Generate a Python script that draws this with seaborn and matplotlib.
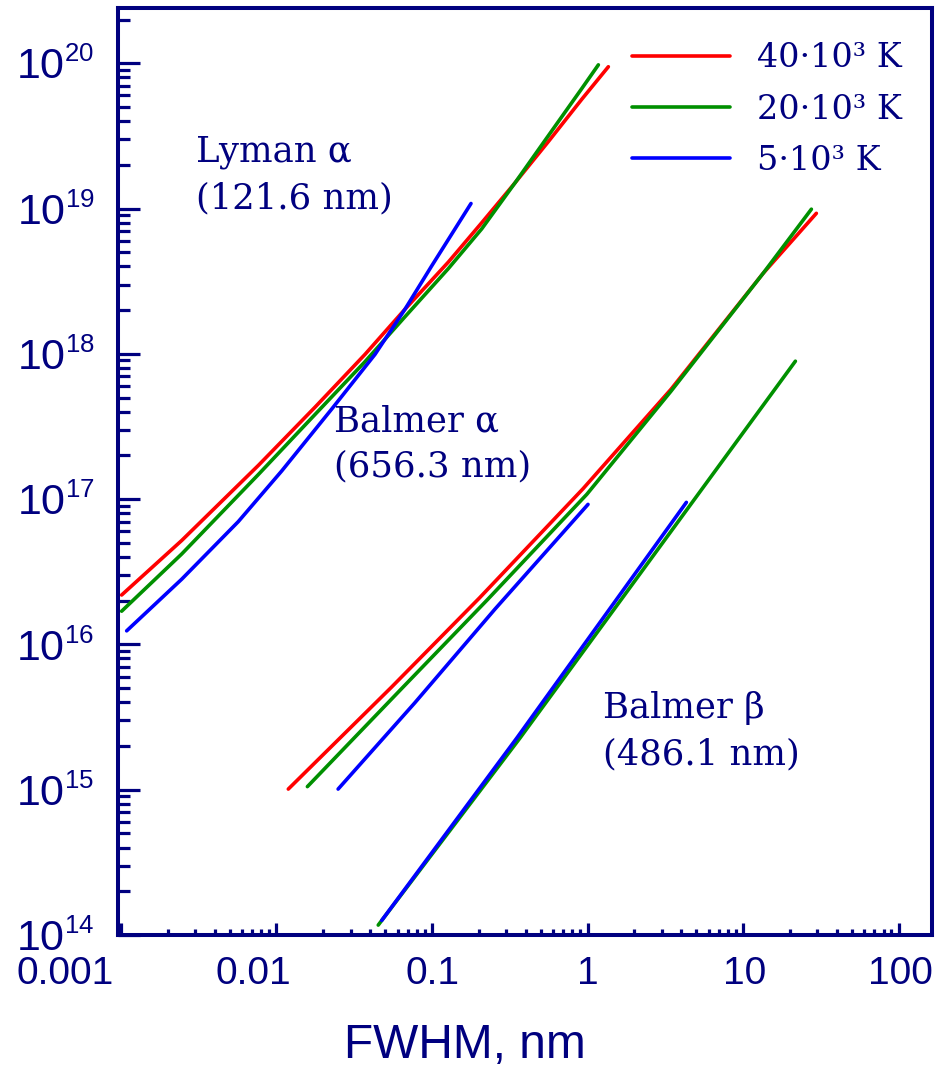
import numpy as np
import pandas as pd
import matplotlib
matplotlib.use("Agg")
import matplotlib.pyplot as plt
import matplotlib.transforms as mtransforms
from matplotlib.ticker import LogLocator, NullFormatter
import seaborn as sns

# ---------------- data ----------------
temperatures = ["40·10³ K", "20·10³ K", "5·10³ K"]
temp_colors = ["#ff0000", "#009000", "#0000ff"]

# Lyman alpha (121.6 nm)
lyman_40_x = [0.00101, 0.002457, 0.007638, 0.01769, 0.03707, 0.067, 0.1273, 0.2087, 0.3418, 0.5597, 0.9177, 1.361]
lyman_40_y = [2.188e16, 5.19e16, 1.705e17, 4.293e17, 9.91e17, 2.027e18, 4.279e18, 7.98e18, 1.503e19, 2.888e19, 5.645e19, 9.46e19]
lyman_20_x = [0.00101, 0.002457, 0.007638, 0.01769, 0.03707, 0.067, 0.1273, 0.2087, 0.3418, 0.5597, 0.9177, 1.174]
lyman_20_y = [1.693e16, 4.19e16, 1.475e17, 3.825e17, 8.83e17, 1.799e18, 3.86e18, 7.244e18, 1.503e19, 3.171e19, 6.69e19, 9.75e19]
lyman_5_x = [0.001088, 0.002457, 0.005679, 0.0108, 0.02265, 0.04298, 0.067, 0.0996, 0.1781]
lyman_5_y = [1.24e16, 2.81e16, 7.0e16, 1.562e17, 4.168e17, 9.91e17, 2.027e18, 4.033e18, 1.083e19]

# Balmer alpha (656.3 nm)
balmer_a_40_x = [0.01191, 0.0549, 0.202, 0.936, 3.44, 13.4, 29.6]
balmer_a_40_y = [1.01e15, 5.08e15, 2.09e16, 1.18e17, 5.7e17, 3.56e18, 9.27e18]
balmer_a_20_x = [0.0158, 0.0651, 0.227, 0.99, 3.44, 13.4, 27.5]
balmer_a_20_y = [1.05e15, 5.08e15, 2.03e16, 1.08e17, 5.53e17, 3.56e18, 9.9e18]
balmer_a_5_x = [0.0249, 0.0773, 0.254, 1.007]
balmer_a_5_y = [1.01e15, 3.95e15, 1.75e16, 9.2e16]

# Balmer beta (486.1 nm)
balmer_b_20_x = [0.0451, 0.368, 21.7]
balmer_b_20_y = [1.17e14, 2.27e15, 8.9e17]
balmer_b_5_x = [0.0475, 0.351, 4.32]
balmer_b_5_y = [1.26e14, 2.27e15, 9.5e16]

x_ticks = [0.001, 0.01, 0.1, 1, 10, 100]
x_tick_labels = ["0.001", "0.01", "0.1", "1", "10", "100"]
y_ticks = [1e14, 1e15, 1e16, 1e17, 1e18, 1e19, 1e20]
y_tick_labels = [r"$10^{14}$", r"$10^{15}$", r"$10^{16}$", r"$10^{17}$",
                 r"$10^{18}$", r"$10^{19}$", r"$10^{20}$"]
x_label = "FWHM, nm"
line_labels = [("Lyman α", "(121.6 nm)"), ("Balmer α", "(656.3 nm)"), ("Balmer β", "(486.1 nm)")]

series = [
    ("lyman", temperatures[0], lyman_40_x, lyman_40_y),
    ("lyman", temperatures[1], lyman_20_x, lyman_20_y),
    ("lyman", temperatures[2], lyman_5_x, lyman_5_y),
    ("balmer_a", temperatures[0], balmer_a_40_x, balmer_a_40_y),
    ("balmer_a", temperatures[1], balmer_a_20_x, balmer_a_20_y),
    ("balmer_a", temperatures[2], balmer_a_5_x, balmer_a_5_y),
    ("balmer_b", temperatures[1], balmer_b_20_x, balmer_b_20_y),
    ("balmer_b", temperatures[2], balmer_b_5_x, balmer_b_5_y),
]
rows = []
for line_name, temp, xs, ys in series:
    for i, (xv, yv) in enumerate(zip(xs, ys)):
        rows.append({"curve": f"{line_name}|{temp}", "temp": temp, "fwhm": xv, "ne": yv, "order": i})
df = pd.DataFrame(rows)

# ---------------- style ----------------
navy = "#00007f"
sns.set_style("white")
plt.rcParams["font.family"] = ["Liberation Sans", "DejaVu Sans"]
plt.rcParams["mathtext.default"] = "regular"
try:
    import matplotlib._mathtext as _mt
    _mt.SHRINK_FACTOR = 0.6
except Exception:
    pass

fig = plt.figure(figsize=(9.42, 10.69), dpi=100)
ax = fig.add_axes([118 / 942, 134 / 1069, 814 / 942, 927 / 1069])
ax.set_xscale("log")
ax.set_yscale("log")

sns.lineplot(data=df, x="fwhm", y="ne", hue="temp", hue_order=temperatures,
             palette=temp_colors, units="curve", estimator=None, sort=False,
             linewidth=2.6, ax=ax)

ax.set_xlim(0.000957, 164.0)
ax.set_ylim(1e14, 2.40e20)

# ticks
ax.set_xticks(x_ticks, labels=x_tick_labels)
ax.set_yticks(y_ticks, labels=y_tick_labels)
ax.xaxis.set_minor_locator(LogLocator(base=10, subs=np.arange(2, 10), numticks=100))
ax.yaxis.set_minor_locator(LogLocator(base=10, subs=np.arange(2, 10), numticks=100))
ax.xaxis.set_minor_formatter(NullFormatter())
ax.yaxis.set_minor_formatter(NullFormatter())
ax.tick_params(axis="both", which="both", direction="in", color=navy, width=2.3,
               labelcolor=navy, top=False, right=False, bottom=True, left=True)
ax.tick_params(axis="y", which="major", length=15.6, pad=17, labelsize=31)
ax.tick_params(axis="y", which="minor", length=8.9)
ax.tick_params(axis="x", which="major", length=8.4, pad=15, labelsize=28)
ax.tick_params(axis="x", which="minor", length=4.5)

for sp in ax.spines.values():
    sp.set_color(navy)
    sp.set_linewidth(2.9)
    sp.set_visible(True)

# shift long x tick labels left like the reference
x_label_shift_px = [-56, -23, 0, 0, 2, 2]
for tick, dx in zip(ax.xaxis.get_major_ticks(), x_label_shift_px):
    lab = tick.label1
    lab.set_transform(lab.get_transform() +
                      mtransforms.ScaledTranslation(dx / 100, 0, fig.dpi_scale_trans))

ax.set_xlabel(x_label, fontsize=34.5, color=navy)
ax.xaxis.set_label_coords(0.426, -0.095)
ax.set_ylabel("")

# legend
handles, labels = ax.get_legend_handles_labels()
leg = ax.legend(handles, labels, loc="upper left", bbox_to_anchor=(0.631, 0.963),
                frameon=False, borderpad=0, borderaxespad=0,
                handlelength=2.95, handletextpad=0.8, labelspacing=0.58,
                prop={"family": "DejaVu Serif", "size": 24})
for t in leg.get_texts():
    t.set_color(navy)
for h in leg.get_lines():
    h.set_linewidth(2.6)

# line annotations
serif = {"family": "DejaVu Serif", "size": 25.5, "color": navy}
label_pos = [((0.0958, 0.8347), (0.0958, 0.7843)),
             ((0.2654, 0.5434), (0.2654, 0.4943)),
             ((0.5958, 0.2343), (0.5958, 0.1839))]
for (l1, l2), (p1, p2) in zip(line_labels, label_pos):
    ax.text(p1[0], p1[1], l1, transform=ax.transAxes, ha="left", va="baseline", **serif)
    ax.text(p2[0], p2[1], l2, transform=ax.transAxes, ha="left", va="baseline", **serif)

fig.savefig("out.png", dpi=100)
